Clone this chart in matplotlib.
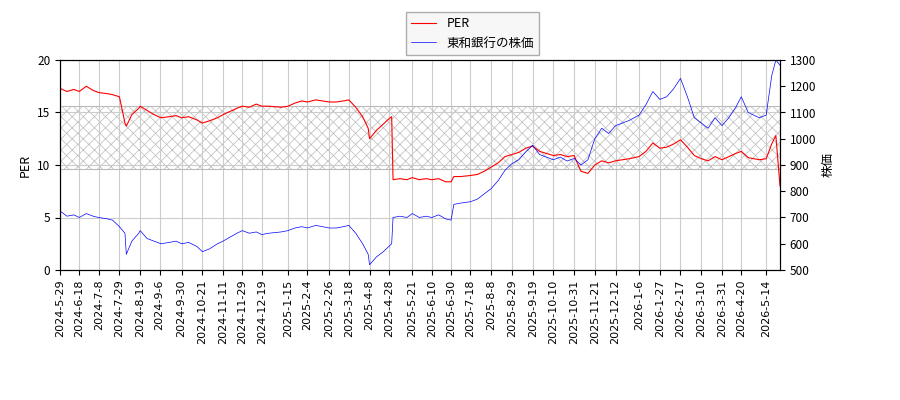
import numpy as np
import matplotlib
matplotlib.use("Agg")
import matplotlib.pyplot as plt

plt.rcParams['font.family'] = ['Noto Sans CJK JP', 'DejaVu Sans']
plt.rcParams['hatch.linewidth'] = 0.5

tick_labels = ["2024-5-29","2024-6-18","2024-7-8","2024-7-29","2024-8-19","2024-9-6","2024-9-30",
 "2024-10-21","2024-11-11","2024-11-29","2024-12-19","2025-1-15","2025-2-4","2025-2-26","2025-3-18",
 "2025-4-8","2025-4-28","2025-5-21","2025-6-10","2025-6-30","2025-7-18","2025-8-8","2025-8-29",
 "2025-9-19","2025-10-10","2025-10-31","2025-11-21","2025-12-12","2026-1-6","2026-1-27","2026-2-17",
 "2026-3-10","2026-3-31","2026-4-20","2026-5-14"]

price_dates = ["2024-5-29","2024-6-5","2024-6-12","2024-6-18","2024-6-25","2024-7-2","2024-7-8","2024-7-16",
 "2024-7-22","2024-7-29","2024-8-2","2024-8-5","2024-8-9","2024-8-16","2024-8-19","2024-8-26","2024-9-2",
 "2024-9-9","2024-9-17","2024-9-24","2024-9-30","2024-10-7","2024-10-15","2024-10-21","2024-10-28",
 "2024-11-5","2024-11-11","2024-11-18","2024-11-25","2024-11-29","2024-12-6","2024-12-13","2024-12-19",
 "2024-12-26","2025-1-8","2025-1-15","2025-1-22","2025-1-29","2025-2-4","2025-2-12","2025-2-19","2025-2-26",
 "2025-3-5","2025-3-12","2025-3-18","2025-3-25","2025-4-1","2025-4-7","2025-4-8","2025-4-15","2025-4-22",
 "2025-4-28","2025-4-30","2025-5-1","2025-5-8","2025-5-15","2025-5-21","2025-5-28","2025-6-4","2025-6-10",
 "2025-6-17","2025-6-24","2025-6-30","2025-7-2","2025-7-9","2025-7-18","2025-7-25","2025-8-1","2025-8-8",
 "2025-8-15","2025-8-22","2025-8-29","2025-9-5","2025-9-12","2025-9-19","2025-9-26","2025-10-3","2025-10-10",
 "2025-10-17","2025-10-24","2025-10-31","2025-11-7","2025-11-14","2025-11-21","2025-11-28","2025-12-5",
 "2025-12-12","2025-12-19","2025-12-26","2026-1-6","2026-1-13","2026-1-20","2026-1-27","2026-2-3",
 "2026-2-10","2026-2-17","2026-2-24","2026-3-3","2026-3-10","2026-3-17","2026-3-24","2026-3-31","2026-4-7",
 "2026-4-14","2026-4-20","2026-4-27","2026-5-7","2026-5-14","2026-5-20","2026-5-25","2026-5-28"]

price = [725,705,710,700,715,705,700,695,690,665,640,560,610,640,650,620,610,600,605,610,600,605,590,570,
 580,600,610,625,640,650,640,645,635,640,645,650,660,665,660,670,665,660,660,665,670,640,600,560,520,550,
 570,590,600,700,705,700,715,700,705,700,710,695,690,750,755,760,770,790,810,840,880,905,920,950,975,940,
 930,920,930,915,925,900,920,1000,1040,1020,1050,1060,1070,1090,1130,1180,1150,1160,1190,1230,1160,1080,
 1060,1040,1080,1050,1080,1120,1160,1100,1080,1090,1240,1300,1280]

per = [17.3,17.0,17.2,17.0,17.5,17.1,16.9,16.8,16.7,16.5,14.0,13.7,14.8,15.4,15.6,15.2,14.8,14.5,14.6,14.7,
 14.5,14.6,14.3,14.0,14.2,14.5,14.8,15.1,15.4,15.6,15.5,15.8,15.6,15.6,15.5,15.6,15.9,16.1,16.0,16.2,16.1,
 16.0,16.0,16.1,16.2,15.5,14.6,13.5,12.5,13.3,13.9,14.4,14.6,8.6,8.7,8.6,8.8,8.6,8.7,8.6,8.7,8.4,8.4,8.9,
 8.9,9.0,9.1,9.4,9.8,10.2,10.8,11.0,11.2,11.6,11.8,11.3,11.1,10.9,11.0,10.8,10.9,9.4,9.2,10.0,10.4,10.2,
 10.4,10.5,10.6,10.8,11.3,12.1,11.6,11.7,12.0,12.4,11.7,10.9,10.6,10.4,10.8,10.5,10.8,11.1,11.3,10.7,10.5,
 10.6,12.0,12.8,8.0]

band_low, band_high = 9.6, 15.6

def bidx(d):
    y, m, dd = d.split("-")
    return np.busday_count("2024-05-29", f"{y}-{int(m):02d}-{int(dd):02d}")

px = np.array([bidx(d) for d in price_dates])
tx = np.array([bidx(d) for d in tick_labels])

fig = plt.figure(figsize=(9, 4), dpi=100)
ax = fig.add_axes([60/900, 130/400, 720/900, 210/400])
ax2 = ax.twinx()

ax.fill_between([0, bidx("2026-5-28")], band_low, band_high, facecolor='none',
                hatch='xxx', edgecolor='#bbbbbb', linewidth=0)
ax.axhline(band_low, color='#bbbbbb', lw=0.8)
ax.axhline(band_high, color='#bbbbbb', lw=0.8)
l1, = ax.plot(px, per, color='red', lw=0.8, label='PER')
l2, = ax2.plot(px, price, color='blue', lw=0.5, label='東和銀行の株価')

ax.set_xlim(0, bidx("2026-5-28"))
ax.set_ylim(0, 20)
ax2.set_ylim(500, 1300)
ax.set_yticks([0, 5, 10, 15, 20])
ax2.set_yticks(range(500, 1301, 100))
ax.set_xticks(tx)
ax.set_xticklabels(tick_labels, rotation=90, fontsize=8, family='DejaVu Sans')
ax.tick_params(axis='y', labelsize=8.5)
ax2.tick_params(axis='y', labelsize=8.5)
ax.grid(True, color='#cccccc', lw=0.8)
ax.set_ylabel('PER', fontsize=9)
ax2.set_ylabel('株価', fontsize=9)

fig.legend([l1, l2], ['PER', '東和銀行の株価'], loc='upper center', bbox_to_anchor=(0.525, 0.985),
           fontsize=9, frameon=True, fancybox=False, edgecolor='#999999', facecolor='#f5f5f5')

fig.savefig("out.png", dpi=100)
